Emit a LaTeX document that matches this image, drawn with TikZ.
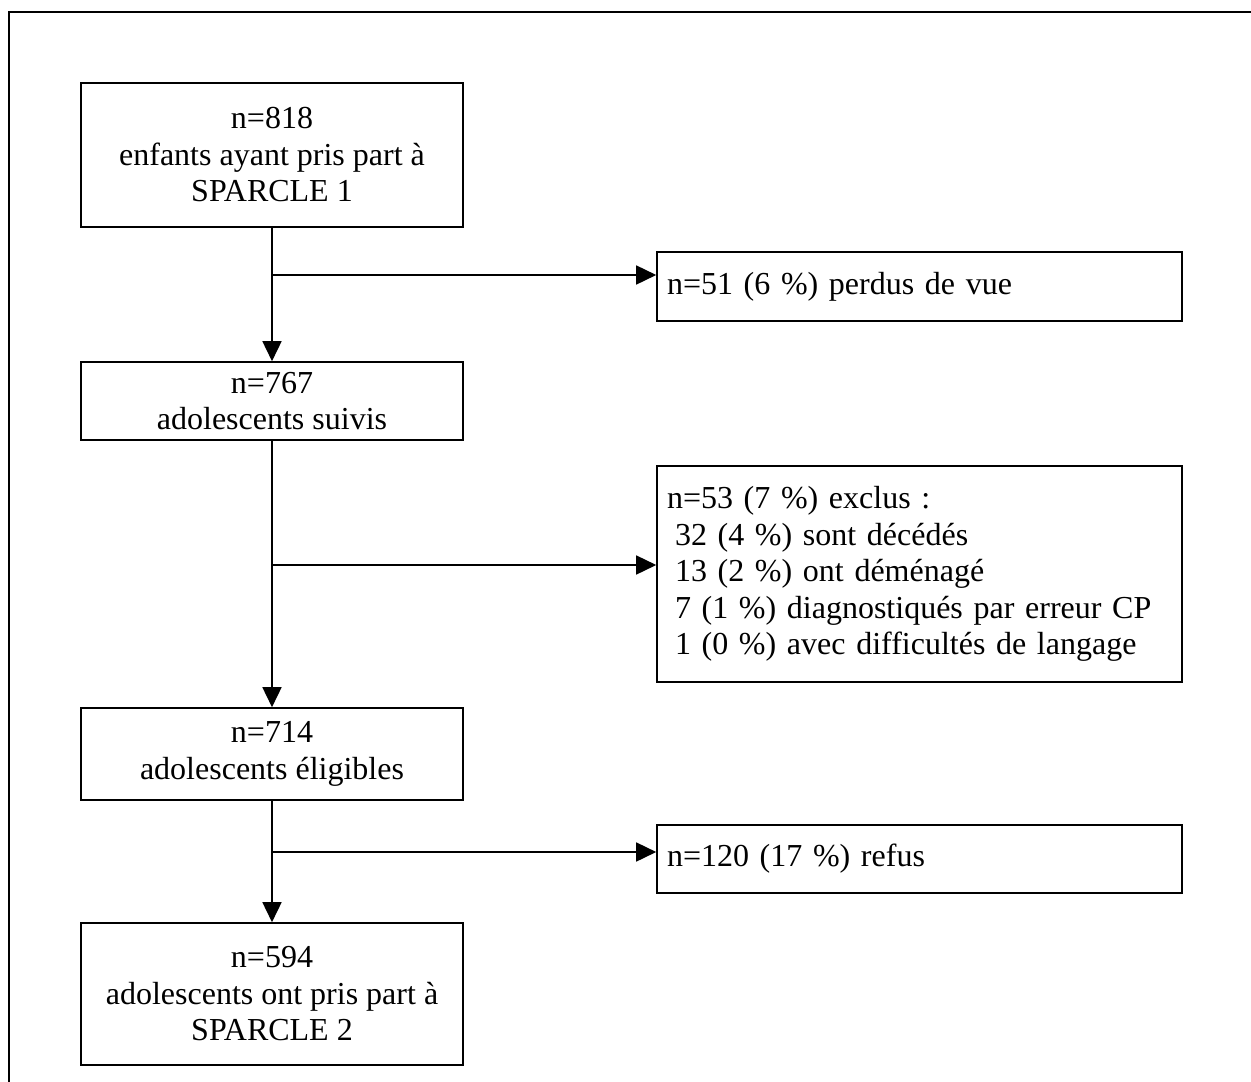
\documentclass[tikz,border=0pt]{standalone}
\usepackage{fontspec}
\setmainfont{Liberation Serif}
\usetikzlibrary{arrows.meta}
\begin{document}
\begin{tikzpicture}[x=1pt,y=-1pt,
  txt/.style={font=\fontsize{32}{36.5}\selectfont},
  box/.style={txt,draw,line width=1.6pt,minimum width=382pt,align=center,inner sep=0pt},
  sidebox/.style={txt,draw,line width=1.6pt,text width=505pt,minimum width=525pt,inner xsep=10pt,inner ysep=0pt,align=left},
  link/.style={line width=1.6pt,-{Triangle[length=20pt,width=19pt]}},
  frame/.style={line width=1.4pt}]
\useasboundingbox (0,0) rectangle (1251,1082);
\clip (0,0) rectangle (1251,1082);
\draw[frame] (9,12) rectangle (1270,1100);

\node[box,minimum height=144pt] (b1) at (272,155) {n=818\\enfants ayant pris part à\\SPARCLE 1};
\node[box,minimum height=78pt] (b2) at (272,401) {n=767\\adolescents suivis};
\node[box,minimum height=92pt] (b3) at (272,754) {n=714\\adolescents éligibles};
\node[box,minimum height=142pt] (b4) at (272,994) {n=594\\adolescents ont pris part à\\SPARCLE 2};

\node[sidebox,minimum height=69pt] (sa) at (919.5,286.5) {n=51 (6 \%) perdus de vue};
\node[sidebox,minimum height=216pt] (sb) at (919.5,574) {n=53 (7 \%) exclus :\\
\hspace*{8pt}32 (4 \%) sont décédés\\
\hspace*{8pt}13 (2 \%) ont déménagé\\
\hspace*{8pt}7 (1 \%) diagnostiqués par erreur CP\\
\hspace*{8pt}1 (0 \%) avec difficultés de langage};
\node[sidebox,minimum height=68pt] (sc) at (919.5,859) {n=120 (17 \%) refus};

\coordinate (j1) at (272,275);
\coordinate (j2) at (272,565);
\coordinate (j3) at (272,852);

\draw[link] (b1) -- (b2);
\draw[link] (b2) -- (b3);
\draw[link] (b3) -- (b4);
\draw[link] (j1) -- (j1 -| sa.west);
\draw[link] (j2) -- (j2 -| sb.west);
\draw[link] (j3) -- (j3 -| sc.west);
\end{tikzpicture}
\end{document}
